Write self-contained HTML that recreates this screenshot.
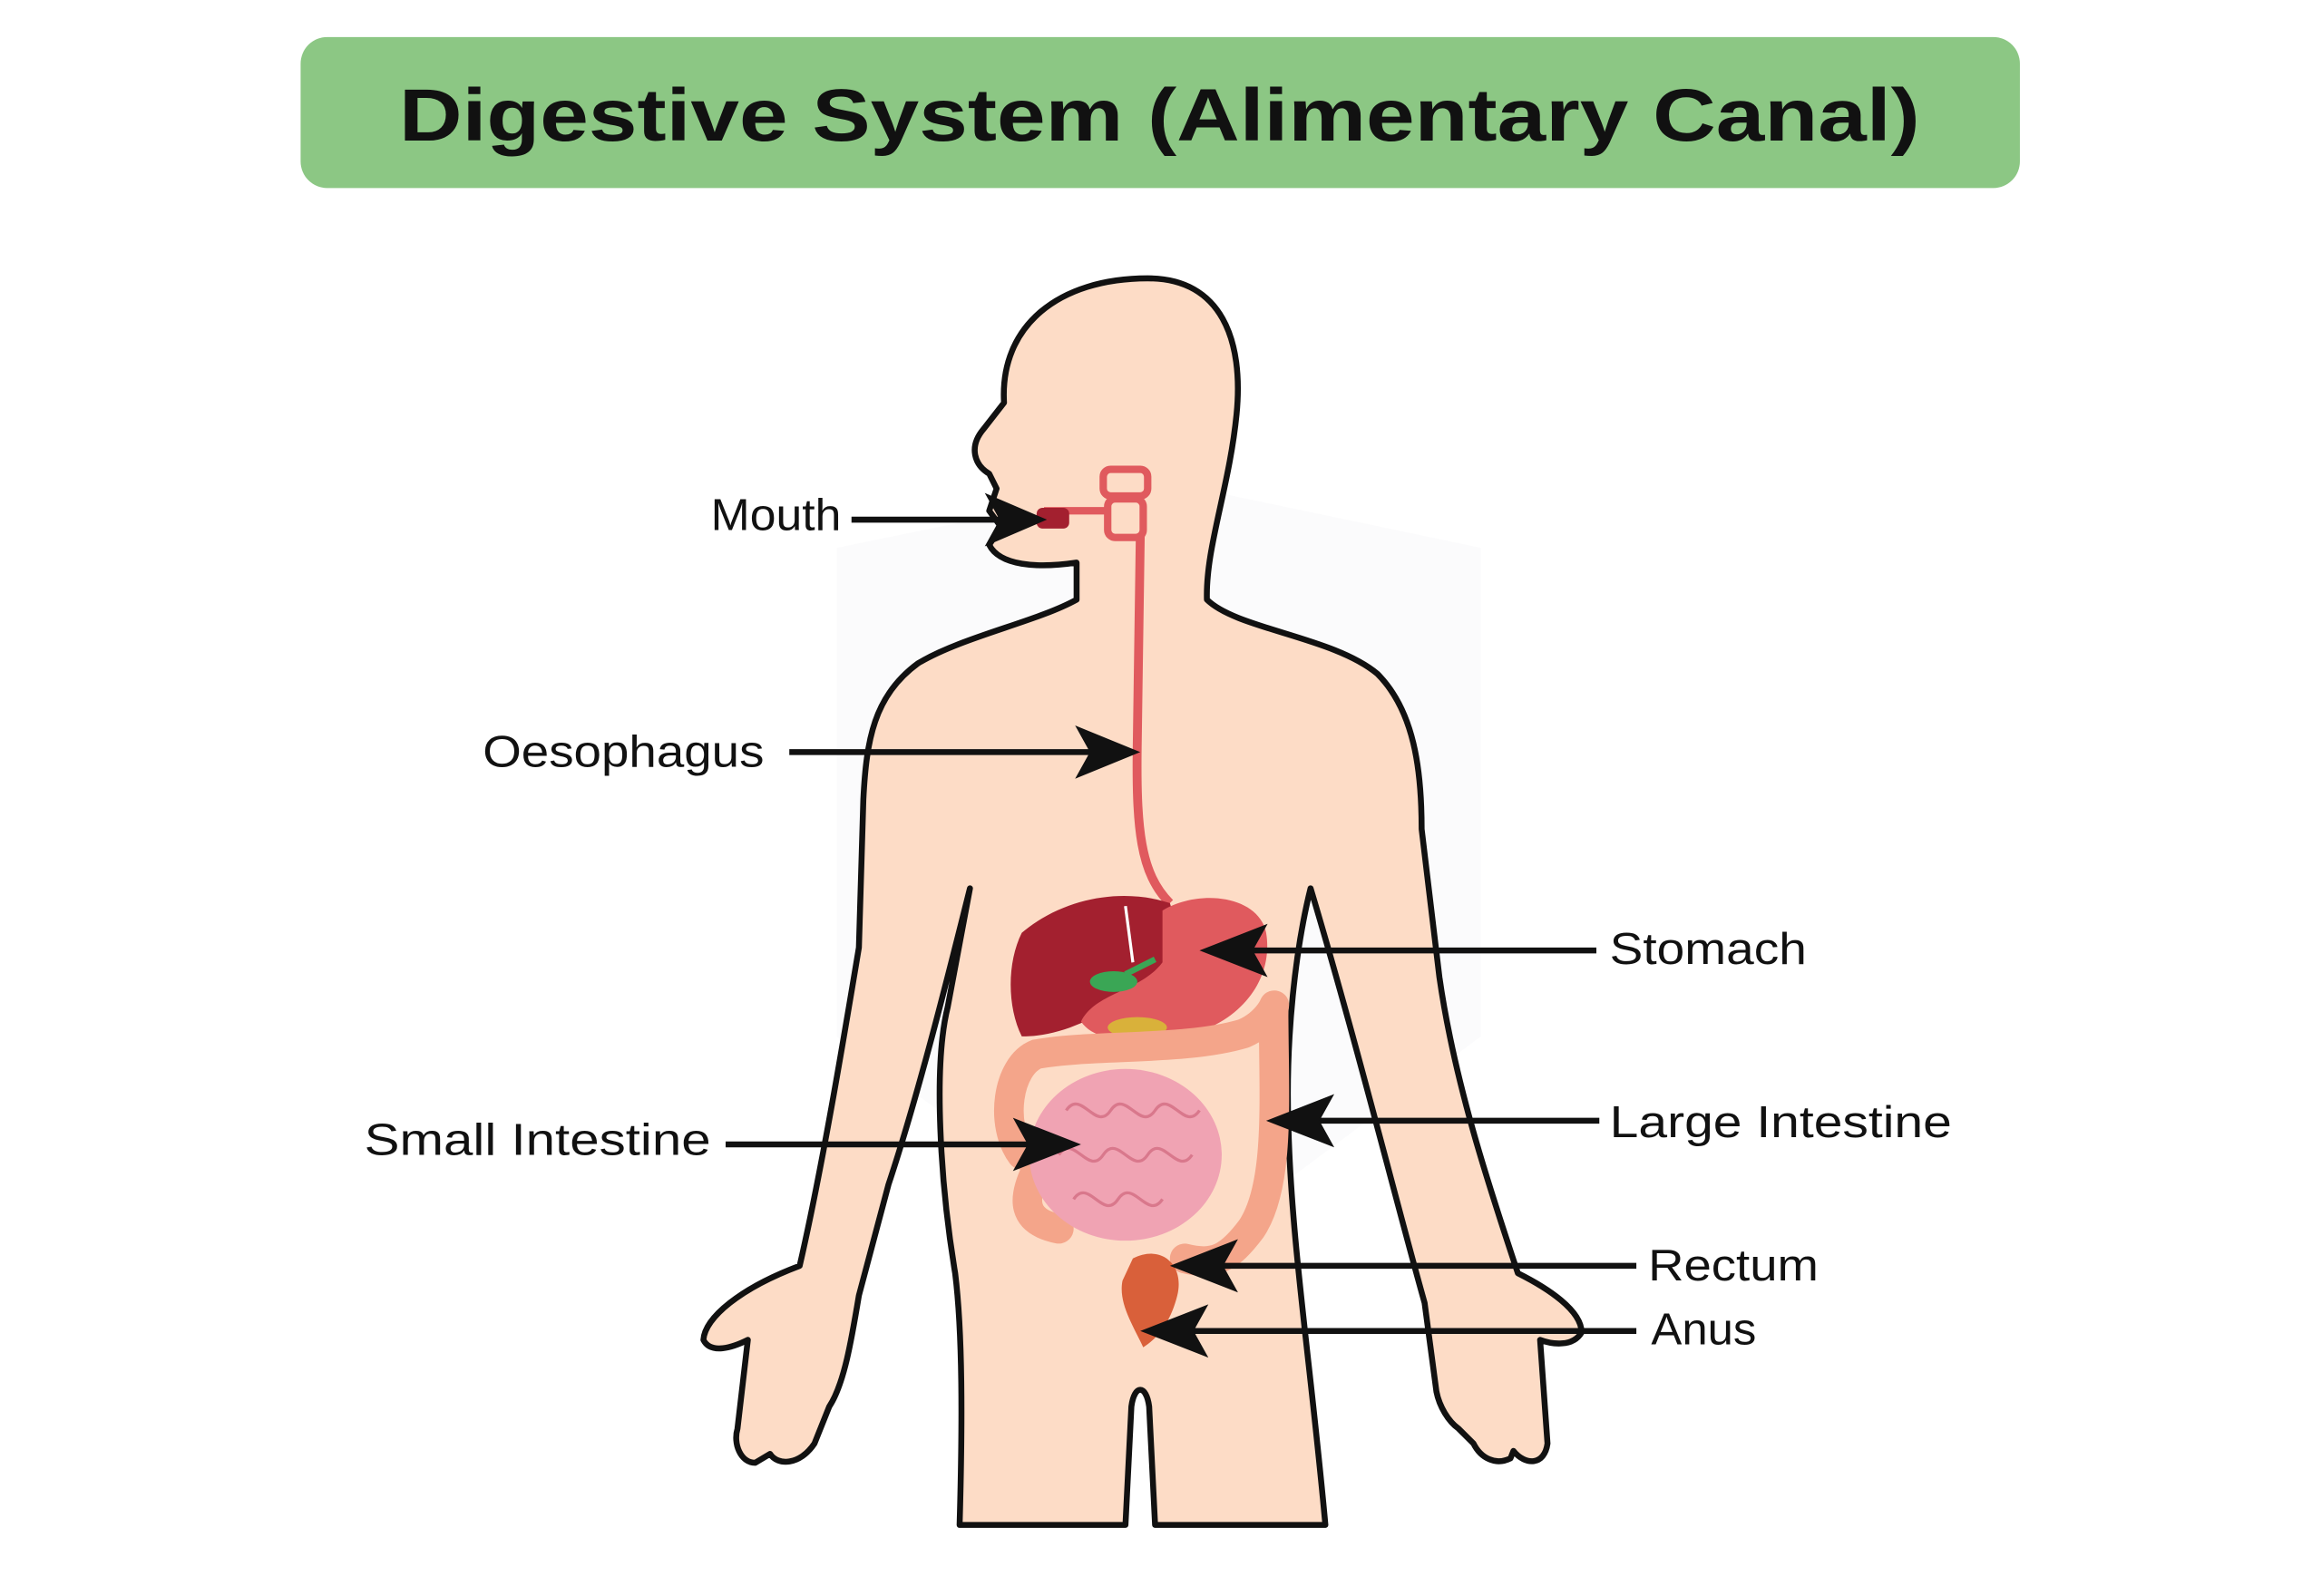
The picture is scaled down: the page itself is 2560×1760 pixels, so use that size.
<!DOCTYPE html>
<html><head><meta charset="utf-8"><style>
html,body{margin:0;padding:0;background:#fff;}
svg{display:block;}
text{font-family:"Liberation Sans",sans-serif;}
</style></head><body>
<svg width="2560" height="1760" viewBox="0 0 1568 1078" xmlns="http://www.w3.org/2000/svg">
<rect x="203" y="25" width="1161" height="102" rx="18" fill="#8cc784"/>
<text x="783" y="95" text-anchor="middle" font-size="50" font-weight="bold" fill="#111" textLength="1027" lengthAdjust="spacingAndGlyphs">Digestive System (Alimentary Canal)</text>

<path d="M565,370 L785,325 L1000,370 L1000,700 L785,860 L565,700 Z" fill="#f4f4f6" opacity="0.35"/>

<path d="M727,405 L727,380 C700,384 675,382 668,368 L676,356 L668,345 L673,330 L668,320 C658,314 654,302 664,290 L678,272
C675,220 715,188 775,188 C825,188 840,230 835,280 C830,330 814,370 815,405
C835,425 900,430 930,455 C955,480 960,520 960,560 L972,660 C982,730 1005,800 1025,860
C1045,870 1068,885 1068,900 C1062,910 1048,908 1040,905 L1045,975 C1043,990 1030,990 1022,980 L1020,985 C1010,990 1000,985 995,975
L985,965 C978,960 972,950 970,940 L962,880 C945,820 915,700 885,600
C875,640 868,700 870,760 C872,840 885,920 895,1030 L780,1030 L776,950 C774,935 766,935 764,950 L760,1030 L648,1030
C650,960 650,900 645,860 C635,800 630,720 640,680 L655,600
C640,660 620,740 600,800 L580,875 C575,905 570,935 560,950 L550,975 C540,990 525,990 520,982 L510,988 C500,988 495,975 498,965 L505,905
C495,910 480,915 475,905 C476,890 500,870 540,855 C555,790 570,700 580,640 L583,540 C585,500 590,470 620,448 C650,430 700,420 727,405 Z"
fill="#fddcc6" stroke="#111" stroke-width="4" stroke-linejoin="round"/>

<rect x="745" y="317" width="30" height="18" rx="5" fill="none" stroke="#e05a5e" stroke-width="5"/>
<rect x="748" y="337" width="24" height="26" rx="5" fill="none" stroke="#e05a5e" stroke-width="5"/>
<line x1="705" y1="345" x2="748" y2="345" stroke="#e05a5e" stroke-width="5"/>
<rect x="700" y="343" width="22" height="14" rx="4" fill="#a3202f"/>
<path d="M770,362 L768,500 C767,560 770,590 790,610" fill="none" stroke="#e05a5e" stroke-width="6"/>

<path d="M690,630 C720,605 760,600 790,610 C800,640 780,670 760,675 C735,690 715,700 690,700 C680,680 680,650 690,630 Z" fill="#a3202f"/>
<path d="M785,615 C810,600 850,605 855,630 C860,660 840,690 800,700 C770,705 740,705 730,690 C740,670 770,670 785,650 Z" fill="#e05a5e"/>
<line x1="760" y1="612" x2="765" y2="650" stroke="#fff" stroke-width="2"/>
<ellipse cx="752" cy="663" rx="16" ry="7" fill="#3aa655"/>
<path d="M760,658 L780,648" stroke="#3aa655" stroke-width="4"/>
<ellipse cx="768" cy="694" rx="20" ry="7" fill="#d9b13a"/>

<path d="M690,780 C675,760 680,720 700,712 C740,705 800,710 840,698 C858,690 862,675 860,680 C860,740 865,800 845,830 C830,850 820,855 800,850"
fill="none" stroke="#f4a58a" stroke-width="20" stroke-linecap="round"/>
<path d="M700,790 C690,810 690,825 715,830" fill="none" stroke="#f4a58a" stroke-width="20" stroke-linecap="round"/>
<ellipse cx="760" cy="780" rx="65" ry="58" fill="#f0a3b3"/>
<path d="M720,750 c10,-15 20,15 30,0 c10,-15 20,15 30,0 c10,-15 20,15 30,0 M715,780 c10,-15 20,15 30,0 c10,-15 20,15 30,0 c10,-15 20,15 30,0 M725,810 c10,-15 20,15 30,0 c10,-15 20,15 30,0" fill="none" stroke="#d9788c" stroke-width="2"/>
<path d="M765,850 C785,840 800,855 795,875 C790,895 780,905 772,910 C765,895 755,880 758,865 Z" fill="#d9603a"/>

<g stroke="#111" stroke-width="4" fill="#111">
<line x1="575" y1="351" x2="680" y2="351"/><polygon points="707,351 665,333 675,351 665,369" stroke="none"/>
<line x1="533" y1="508" x2="745" y2="508"/><polygon points="770,508 726,490 736,508 726,526" stroke="none"/>
<line x1="1078" y1="642" x2="835" y2="642"/><polygon points="810,642 856,624 846,642 856,660" stroke="none"/>
<line x1="1080" y1="757" x2="880" y2="757"/><polygon points="855,757 901,739 891,757 901,775" stroke="none"/>
<line x1="490" y1="773" x2="705" y2="773"/><polygon points="730,773 684,755 694,773 684,791" stroke="none"/>
<line x1="1105" y1="855" x2="815" y2="855"/><polygon points="790,855 836,837 826,855 836,873" stroke="none"/>
<line x1="1105" y1="899" x2="795" y2="899"/><polygon points="770,899 816,881 806,899 816,917" stroke="none"/>
</g>

<g font-size="30" fill="#111">
<text x="480" y="358" textLength="88" lengthAdjust="spacingAndGlyphs">Mouth</text>
<text x="326" y="518" textLength="190" lengthAdjust="spacingAndGlyphs">Oesophagus</text>
<text x="1087" y="651" textLength="133" lengthAdjust="spacingAndGlyphs">Stomach</text>
<text x="1087" y="768" textLength="231" lengthAdjust="spacingAndGlyphs">Large Intestine</text>
<text x="246" y="780" textLength="234" lengthAdjust="spacingAndGlyphs">Small Intestine</text>
<text x="1113" y="865" textLength="115" lengthAdjust="spacingAndGlyphs">Rectum</text>
<text x="1115" y="908" textLength="71" lengthAdjust="spacingAndGlyphs">Anus</text>
</g>
</svg>
</body></html>
